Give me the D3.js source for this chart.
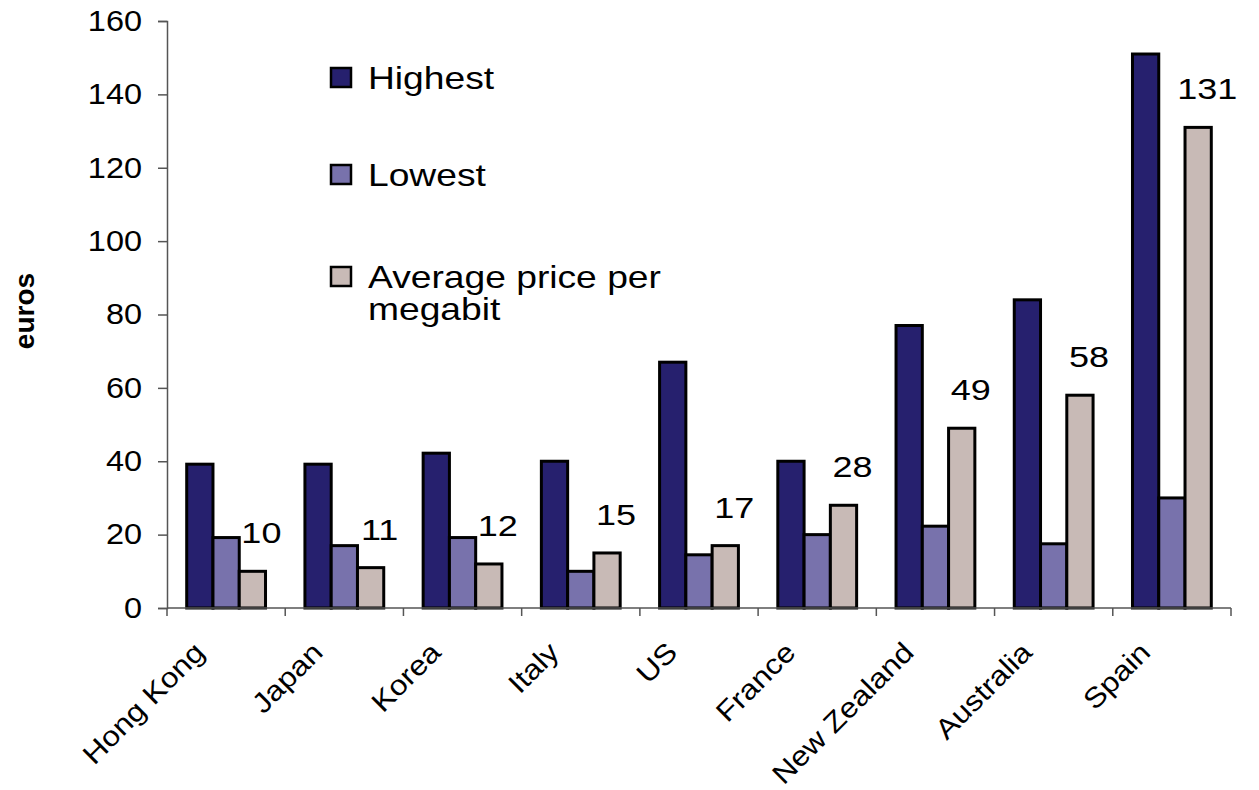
<!DOCTYPE html>
<html>
<head>
<meta charset="utf-8">
<script src="https://cdn.jsdelivr.net/npm/d3@7"></script>
<style>
  html, body { margin: 0; padding: 0; background: #fff; }
  svg { display: block; font-family: "Liberation Sans", Arial, sans-serif; }
</style>
</head>
<body>
<svg id="chart" width="1259" height="790"></svg>
<script>
// Broadband prices by country (euros)
const countries = ["Hong Kong", "Japan", "Korea", "Italy", "US", "France", "New Zealand", "Australia", "Spain"];
const seriesNames = ["Highest", "Lowest", "Average price per megabit"];
const highest = [39.2, 39.2, 42.2, 40, 67, 40, 77, 84, 151];
const lowest  = [19.2, 17, 19.2, 10, 14.5, 20, 22.3, 17.5, 30];
const average = [10, 11, 12, 15, 17, 28, 49, 58, 131];
const yTicks = [0, 20, 40, 60, 80, 100, 120, 140, 160];
const seriesColors = ["#26206e", "#7872ac", "#c8bab6"];

(function () {
const svg = d3.select("#chart");
const plotLeft = 167, plotRight = 1231, plotTop = 21, plotBottom = 608;
const textStretch = 1.2; // horizontal widening of the label type

const x0 = d3.scaleBand().domain(countries).range([plotLeft, plotRight]).padding(0);
const x1 = d3.scaleBand().domain(seriesNames).range([0, x0.bandwidth()])
  .paddingInner(0).paddingOuter(0.75);
const y = d3.scaleLinear().domain([0, 160]).range([plotBottom, plotTop]);
const color = d3.scaleOrdinal().domain(seriesNames).range(seriesColors);

const rows = countries.map((c, i) => ({
  country: c,
  values: [highest[i], lowest[i], average[i]]
}));

// Bars
const groups = svg.append("g").selectAll("g")
  .data(rows).join("g")
  .attr("transform", d => `translate(${x0(d.country)},0)`);

groups.selectAll("rect")
  .data(d => d.values.map((v, k) => ({ key: seriesNames[k], value: v })))
  .join("rect")
  .attr("x", d => x1(d.key))
  .attr("y", d => y(d.value))
  .attr("width", x1.bandwidth())
  .attr("height", d => y(0) - y(d.value))
  .attr("fill", d => color(d.key))
  .attr("stroke", "#000")
  .attr("stroke-width", 3);

// Value labels above the average bars
groups.append("text")
  .attr("transform", d => `translate(${x1(seriesNames[2]) + x1.bandwidth() / 2 + 9},${y(d.values[2]) - 28}) scale(${textStretch},1)`)
  .attr("text-anchor", "middle")
  .attr("font-size", 30)
  .attr("fill", "#000")
  .text(d => d3.format("d")(d.values[2]));

// Y axis
const yAxis = svg.append("g")
  .attr("transform", `translate(${plotLeft},0)`)
  .call(d3.axisLeft(y).tickValues(yTicks).tickSize(9).tickPadding(16).tickFormat(d3.format("d")));
yAxis.select(".domain").attr("stroke", "#555").attr("stroke-width", 1.5);
yAxis.selectAll(".tick line").attr("stroke", "#555").attr("stroke-width", 1.5);
yAxis.selectAll(".tick text")
  .attr("font-size", 29)
  .attr("font-family", "Liberation Sans, Arial, sans-serif")
  .attr("fill", "#000")
  .attr("transform", function () {
    const xx = +d3.select(this).attr("x");
    return `translate(${xx},0) scale(1.12,1)`;
  })
  .attr("x", 0);

// X axis: baseline with ticks on the category boundaries
const xAxis = svg.append("g");
xAxis.append("line")
  .attr("x1", plotLeft).attr("x2", plotRight)
  .attr("y1", y(0)).attr("y2", y(0))
  .attr("stroke", "#555").attr("stroke-width", 1.5);
const boundaries = countries.map(c => x0(c)).concat([x0.range()[1]]);
xAxis.selectAll("line.tick")
  .data(boundaries).join("line")
  .attr("class", "tick")
  .attr("x1", d => d).attr("x2", d => d)
  .attr("y1", y(0)).attr("y2", y(0) + 8)
  .attr("stroke", "#555").attr("stroke-width", 1.5);

xAxis.selectAll("text")
  .data(countries).join("text")
  .attr("transform", d => `translate(${x0(d) + x0.bandwidth() / 2 - 20},${y(0) + 46}) rotate(-45) scale(1.13,1)`)
  .attr("text-anchor", "end")
  .attr("font-size", 28)
  .attr("fill", "#000")
  .text(d => d);

// Y axis title
svg.append("text")
  .attr("transform", `translate(34,311) rotate(-90)`)
  .attr("text-anchor", "middle")
  .attr("font-size", 28)
  .attr("font-weight", "bold")
  .attr("fill", "#000")
  .text("euros");

// Legend
const legendRows = [
  { key: seriesNames[0], lines: ["Highest"], boxY: 68 },
  { key: seriesNames[1], lines: ["Lowest"], boxY: 165 },
  { key: seriesNames[2], lines: ["Average price per", "megabit"], boxY: 267 }
];
const legend = svg.append("g");
const lg = legend.selectAll("g").data(legendRows).join("g");
lg.append("rect")
  .attr("x", 331).attr("y", d => d.boxY)
  .attr("width", 20).attr("height", 19)
  .attr("fill", d => color(d.key))
  .attr("stroke", "#000").attr("stroke-width", 2.5);
lg.each(function (d) {
  const g = d3.select(this);
  d.lines.forEach((line, i) => {
    g.append("text")
      .attr("transform", `translate(368,${d.boxY + 21 + i * 32}) scale(${textStretch},1)`)
      .attr("font-size", 31)
      .attr("fill", "#000")
      .text(line);
  });
});
})();
</script>
</body>
</html>
